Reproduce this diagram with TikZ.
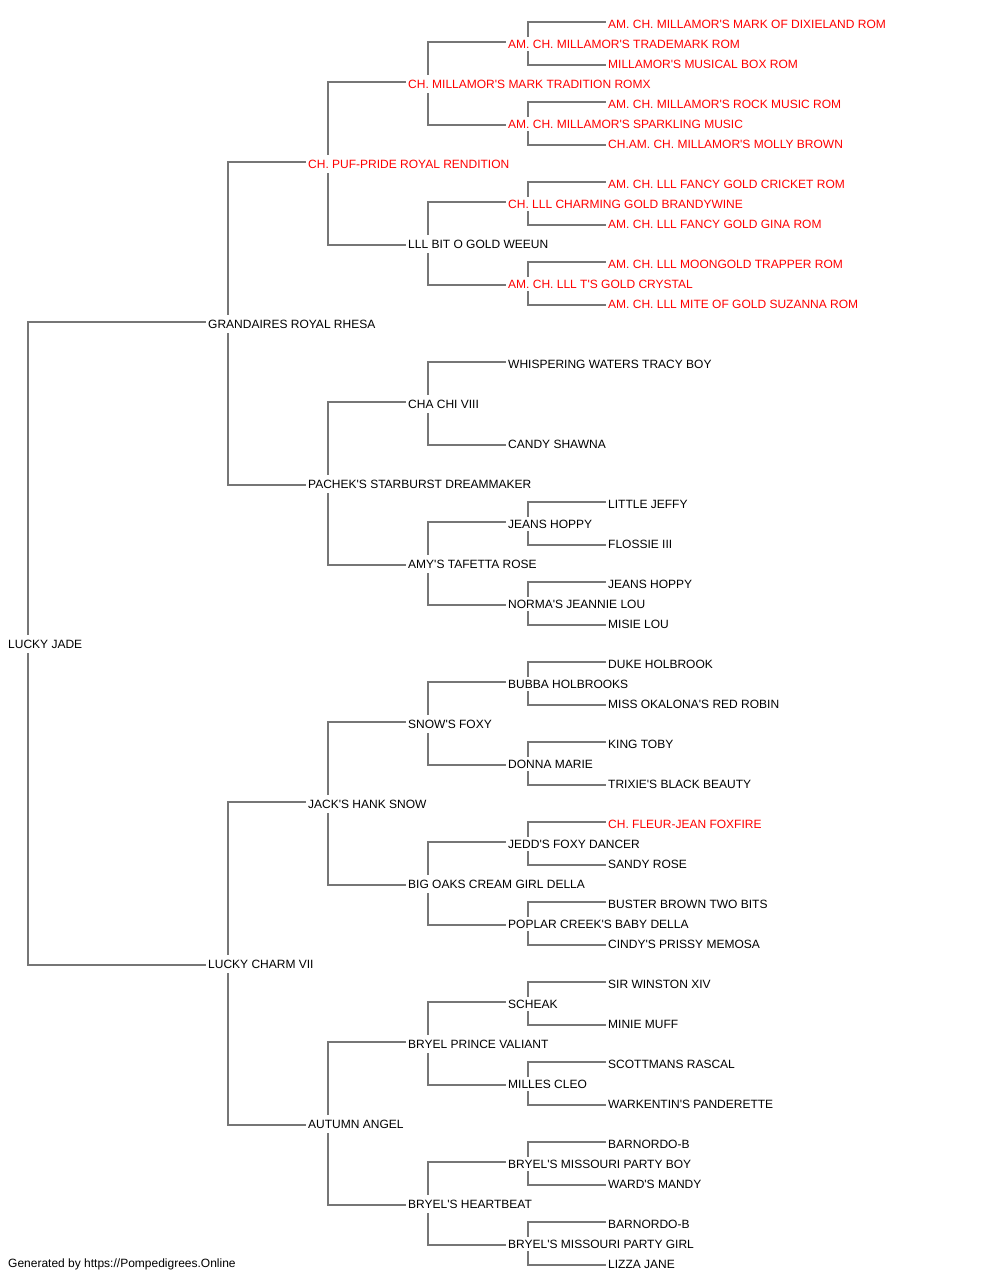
\documentclass[tikz,border=0pt]{standalone}
\usepackage{fontspec}
\newfontfamily\pfont{Liberation Sans}
\usetikzlibrary{backgrounds}
\definecolor{linegray}{RGB}{118,118,118}
\definecolor{pedred}{RGB}{255,0,0}
\begin{document}
\begin{tikzpicture}[x=1pt,y=-1pt,
  nm/.style={anchor=west,fill=white,inner xsep=2pt,inner ysep=5pt,text height=8.6pt,text depth=0pt,
    font=\pfont\fontsize{12pt}{14pt}\selectfont,text=black},
  nm4/.style={nm,inner ysep=2.5pt},
  champ/.style={text=pedred},
  conn/.style={draw=linegray,line width=1.6pt},
  footer/.style={anchor=west,inner sep=0pt,font=\pfont\fontsize{12pt}{14pt}\selectfont}]
\useasboundingbox (0,0) rectangle (1000,1280);
% generation 0
\node[nm] (p) at (6,644) {LUCKY JADE};
% generation 1
\node[nm] (s) at (206,324) {GRANDAIRES ROYAL RHESA};
\node[nm] (d) at (206,964) {LUCKY CHARM VII};
% generation 2
\node[nm,champ] (ss) at (306,164) {CH. PUF-PRIDE ROYAL RENDITION};
\node[nm] (sd) at (306,484) {PACHEK'S STARBURST DREAMMAKER};
\node[nm] (ds) at (306,804) {JACK'S HANK SNOW};
\node[nm] (dd) at (306,1124) {AUTUMN ANGEL};
% generation 3
\node[nm,champ] (sss) at (406,84) {CH. MILLAMOR'S MARK TRADITION ROMX};
\node[nm] (ssd) at (406,244) {LLL BIT O GOLD WEEUN};
\node[nm] (sds) at (406,404) {CHA CHI VIII};
\node[nm] (sdd) at (406,564) {AMY'S TAFETTA ROSE};
\node[nm] (dss) at (406,724) {SNOW'S FOXY};
\node[nm] (dsd) at (406,884) {BIG OAKS CREAM GIRL DELLA};
\node[nm] (dds) at (406,1044) {BRYEL PRINCE VALIANT};
\node[nm] (ddd) at (406,1204) {BRYEL'S HEARTBEAT};
% generation 4
\node[nm4,champ] (ssss) at (506,44) {AM. CH. MILLAMOR'S TRADEMARK ROM};
\node[nm4,champ] (sssd) at (506,124) {AM. CH. MILLAMOR'S SPARKLING MUSIC};
\node[nm4,champ] (ssds) at (506,204) {CH. LLL CHARMING GOLD BRANDYWINE};
\node[nm4,champ] (ssdd) at (506,284) {AM. CH. LLL T'S GOLD CRYSTAL};
\node[nm4] (sdss) at (506,364) {WHISPERING WATERS TRACY BOY};
\node[nm4] (sdsd) at (506,444) {CANDY SHAWNA};
\node[nm4] (sdds) at (506,524) {JEANS HOPPY};
\node[nm4] (sddd) at (506,604) {NORMA'S JEANNIE LOU};
\node[nm4] (dsss) at (506,684) {BUBBA HOLBROOKS};
\node[nm4] (dssd) at (506,764) {DONNA MARIE};
\node[nm4] (dsds) at (506,844) {JEDD'S FOXY DANCER};
\node[nm4] (dsdd) at (506,924) {POPLAR CREEK'S BABY DELLA};
\node[nm4] (ddss) at (506,1004) {SCHEAK};
\node[nm4] (ddsd) at (506,1084) {MILLES CLEO};
\node[nm4] (ddds) at (506,1164) {BRYEL'S MISSOURI PARTY BOY};
\node[nm4] (dddd) at (506,1244) {BRYEL'S MISSOURI PARTY GIRL};
% generation 5
\node[nm4,champ] (sssss) at (606,24) {AM. CH. MILLAMOR'S MARK OF DIXIELAND ROM};
\node[nm4,champ] (ssssd) at (606,64) {MILLAMOR'S MUSICAL BOX ROM};
\node[nm4,champ] (sssds) at (606,104) {AM. CH. MILLAMOR'S ROCK MUSIC ROM};
\node[nm4,champ] (sssdd) at (606,144) {CH.AM. CH. MILLAMOR'S MOLLY BROWN};
\node[nm4,champ] (ssdss) at (606,184) {AM. CH. LLL FANCY GOLD CRICKET ROM};
\node[nm4,champ] (ssdsd) at (606,224) {AM. CH. LLL FANCY GOLD GINA ROM};
\node[nm4,champ] (ssdds) at (606,264) {AM. CH. LLL MOONGOLD TRAPPER ROM};
\node[nm4,champ] (ssddd) at (606,304) {AM. CH. LLL MITE OF GOLD SUZANNA ROM};
\node[nm4] (sddss) at (606,504) {LITTLE JEFFY};
\node[nm4] (sddsd) at (606,544) {FLOSSIE III};
\node[nm4] (sddds) at (606,584) {JEANS HOPPY};
\node[nm4] (sdddd) at (606,624) {MISIE LOU};
\node[nm4] (dssss) at (606,664) {DUKE HOLBROOK};
\node[nm4] (dsssd) at (606,704) {MISS OKALONA'S RED ROBIN};
\node[nm4] (dssds) at (606,744) {KING TOBY};
\node[nm4] (dssdd) at (606,784) {TRIXIE'S BLACK BEAUTY};
\node[nm4,champ] (dsdss) at (606,824) {CH. FLEUR-JEAN FOXFIRE};
\node[nm4] (dsdsd) at (606,864) {SANDY ROSE};
\node[nm4] (dsdds) at (606,904) {BUSTER BROWN TWO BITS};
\node[nm4] (dsddd) at (606,944) {CINDY'S PRISSY MEMOSA};
\node[nm4] (ddsss) at (606,984) {SIR WINSTON XIV};
\node[nm4] (ddssd) at (606,1024) {MINIE MUFF};
\node[nm4] (ddsds) at (606,1064) {SCOTTMANS RASCAL};
\node[nm4] (ddsdd) at (606,1104) {WARKENTIN'S PANDERETTE};
\node[nm4] (dddss) at (606,1144) {BARNORDO-B};
\node[nm4] (dddsd) at (606,1184) {WARD'S MANDY};
\node[nm4] (dddds) at (606,1224) {BARNORDO-B};
\node[nm4] (ddddd) at (606,1264) {LIZZA JANE};
% footer
\node[footer] (foot) at (8,1264) {Generated by https://Pompedigrees.Online};
% connectors
\begin{scope}[on background layer]
\draw[conn] ([xshift=22pt]p.west) |- ([yshift=2pt]s.west);
\draw[conn] ([xshift=22pt]p.west) |- ([yshift=-1pt]d.west);
\foreach \a in {s,d,ss,sd,ds,dd,sss,ssd,sds,sdd,dss,dsd,dds,ddd,ssss,sssd,ssds,ssdd,sdds,sddd,dsss,dssd,dsds,dsdd,ddss,ddsd,ddds,dddd}{
  \draw[conn] ([xshift=22pt]\a.west) |- ([yshift=2pt]\a s.west);
  \draw[conn] ([xshift=22pt]\a.west) |- ([yshift=-1pt]\a d.west);
}
\end{scope}
\end{tikzpicture}
\end{document}
